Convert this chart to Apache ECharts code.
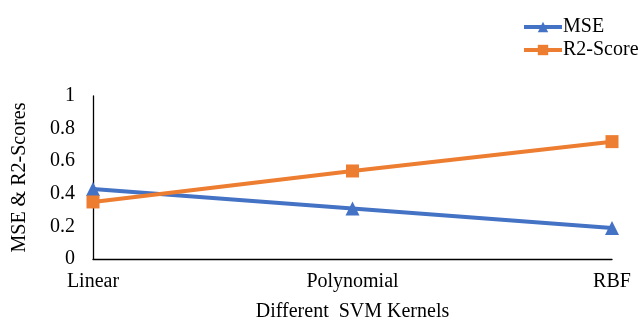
<!DOCTYPE html>
<html><head><meta charset="utf-8">
<script src="https://cdn.jsdelivr.net/npm/echarts@6/dist/echarts.min.js"></script>
<style>html,body{margin:0;padding:0;background:#fff}#c{width:641px;height:320px}</style>
</head><body><div id="c"></div>
<script>
const categories = ['Linear', 'Polynomial', 'RBF'];
const mseValues = [0.43, 0.31, 0.19];
const r2Values = [0.35, 0.54, 0.72];
const yTicks = [0, 0.2, 0.4, 0.6, 0.8, 1];
const font = '"Liberation Serif", "Times New Roman", serif';
const chart = echarts.init(document.getElementById('c'));
chart.setOption({
  animation: false,
  backgroundColor: '#fff',
  legend: {
    orient: 'vertical', left: 522, top: 17, padding: 0, itemGap: 3, itemWidth: 38, itemHeight: 13,
    lineStyle: { width: 4 },
    textStyle: { fontFamily: font, fontSize: 20, color: '#000', padding: [0,0,0,-4] },
    data: ['MSE', 'R2-Score']
  },
  grid: { left: 93, right: 29, top: 96, bottom: 61, outerBoundsMode: 'none', containLabel: false },
  xAxis: {
    type: 'category', data: categories, boundaryGap: false,
    axisLine: { lineStyle: { color: '#000', width: 1.3 } },
    axisTick: { show: false },
    axisLabel: { fontFamily: font, fontSize: 20, color: '#000', margin: 13 },
    name: 'Different  SVM Kernels', nameLocation: 'middle', nameGap: 43,
    nameTextStyle: { fontFamily: font, fontSize: 20, color: '#000' }
  },
  yAxis: {
    type: 'value', min: 0, max: 1, interval: 0.2,
    splitLine: { show: false },
    axisLine: { show: true, lineStyle: { color: '#000', width: 1.3 } },
    axisTick: { show: false },
    axisLabel: { fontFamily: font, fontSize: 20, color: '#000', margin: 18,
      formatter: v => { const t = yTicks.find(x => Math.abs(x - v) < 1e-9); return String(t); } },
    name: 'MSE & R2-Scores', nameLocation: 'middle', nameGap: 63,
    nameTextStyle: { fontFamily: font, fontSize: 20, color: '#000' }
  },
  series: [
    { name: 'MSE', type: 'line', data: mseValues, symbol: 'triangle', symbolSize: 14,
      lineStyle: { color: '#4472C4', width: 4 }, itemStyle: { color: '#4472C4' } },
    { name: 'R2-Score', type: 'line', data: r2Values, symbol: 'rect', symbolSize: 13,
      lineStyle: { color: '#ED7D31', width: 4 }, itemStyle: { color: '#ED7D31' } }
  ]
});
</script></body></html>
